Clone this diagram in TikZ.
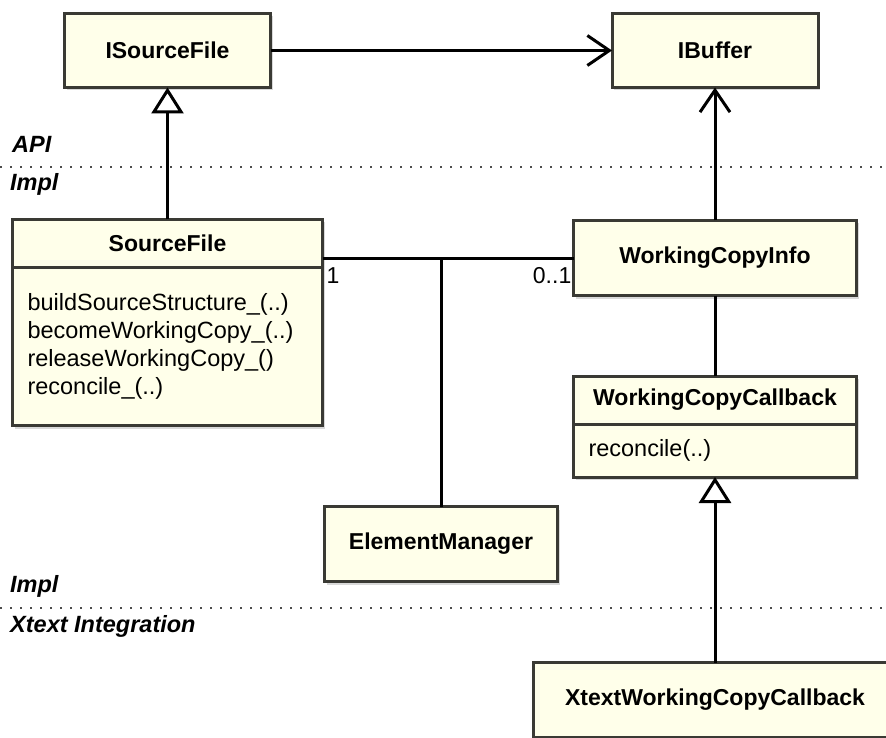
\documentclass[tikz,border=0pt]{standalone}
\usepackage{fontspec}
\setmainfont{Liberation Sans}
\usetikzlibrary{positioning,arrows.meta,shadows}
\definecolor{classfill}{RGB}{255,255,234}
\definecolor{classline}{RGB}{58,58,52}
\tikzset{
  umlclass/.style={draw=classline, line width=3pt, fill=classfill, outer sep=0pt,
    drop shadow={shadow xshift=2pt, shadow yshift=-3pt, opacity=.3},
    font=\fontsize{23}{27}\selectfont\bfseries, align=center, inner sep=0pt},
  umlops/.style={umlclass, font=\fontsize{23.5}{28}\selectfont, align=left, inner xsep=15pt},
  link/.style={line width=3pt, black},
  navig/.style={link, -{Straight Barb[length=22pt, width=30pt]}},
  inherit/.style={link, -{Triangle[open, length=26pt, width=32pt, fill=white]}},
  layer/.style={font=\fontsize{23.5}{27}\selectfont\bfseries\itshape, anchor=base west, inner sep=0pt},
  sepline/.style={black!70, line width=2pt, dash pattern=on 2pt off 8pt},
  mult/.style={font=\fontsize{23}{27}\selectfont, inner sep=0pt}
}
\begin{document}
\begin{tikzpicture}[x=1pt, y=-1pt]
  \path[use as bounding box] (0,0) rectangle (886,738);
  \clip (0,0) rectangle (886,738);
  % layers
  \draw[sepline] (0,167) -- (886,167);
  \draw[sepline] (0,608) -- (886,608);
  \node[layer] (api) at (12,153) {API};
  \node[layer] (impl) at (10,191) {Impl};
  \node[layer] (impl2) at (10,592) {Impl};
  \node[layer] (xtext) at (10,632) {Xtext Integration};
  % classes
  \node[umlclass, minimum width=206pt, minimum height=74pt] (isf) at (167.5,50.5) {ISourceFile};
  \node[umlclass, minimum width=206pt, minimum height=74pt] (ibuf) at (715,50.5) {IBuffer};
  \node[umlclass, minimum width=310pt, minimum height=48pt] (sf) at (167.5,243.5) {SourceFile};
  \node[umlops, anchor=north, text width=280pt, minimum height=158pt] (sfops) at (sf.south)
    {buildSourceStructure\_(..)\\ becomeWorkingCopy\_(..)\\ releaseWorkingCopy\_()\\ reconcile\_(..)};
  \node[umlclass, minimum width=283pt, minimum height=75pt] (wci) at (715,258) {WorkingCopyInfo};
  \node[umlclass, minimum width=283pt, minimum height=48pt] (wcc) at (715,400) {WorkingCopyCallback};
  \node[umlops, anchor=north, text width=253pt, minimum height=53pt] (wccops) at (wcc.south) {reconcile(..)};
  \node[umlclass, minimum width=233pt, minimum height=75pt] (em) at (441,544) {ElementManager};
  \node[umlclass, minimum width=364pt, minimum height=75pt] (xwcc) at (715,700) {XtextWorkingCopyCallback};
  % relations
  \begin{scope}
    \draw[navig] (isf) -- (ibuf);
    \draw[inherit] (sf) -- (isf);
    \draw[navig] (wci) -- (ibuf);
    \draw[link] (sf.east |- wci.west) -- (wci.west);
    \coordinate (fork) at (em.north |- wci.west);
    \draw[link] (fork) -- (em.north);
    \draw[link] (wci) -- (wcc);
    \draw[inherit] (xwcc) -- (wccops);
  \end{scope}
  \node[mult, anchor=north west] (one) at ([xshift=4pt, yshift=-9pt]sf.east |- wci.west) {1};
  \node[mult, anchor=north east] (zeroone) at ([xshift=-2pt, yshift=-9pt]wci.west) {0..1};
\end{tikzpicture}
\end{document}
